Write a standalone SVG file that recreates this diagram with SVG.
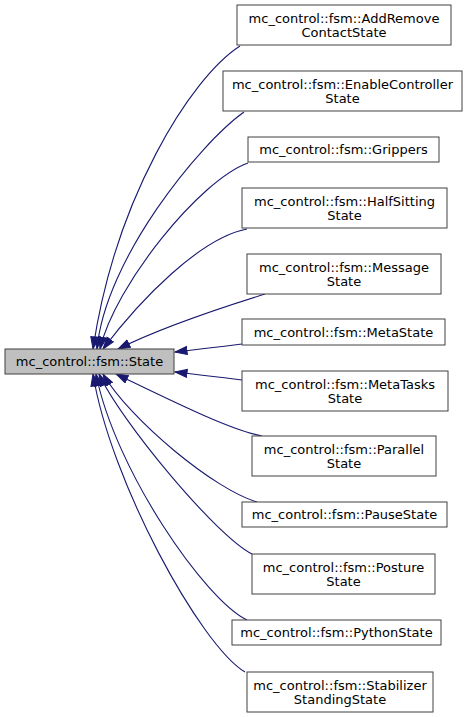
<svg xmlns="http://www.w3.org/2000/svg" width="471" height="717" viewBox="0 0 471 717">
<defs>
<style>
.n rect{fill:#ffffff;stroke:#404040;stroke-width:1}
#root rect{fill:#bfbfbf}
text{font-family:"DejaVu Sans","Liberation Sans",sans-serif;font-size:13px;fill:#000000;text-anchor:middle}
.e path{fill:none;stroke:#191970;stroke-width:1.1;marker-end:url(#ah)}
</style>
<marker id="ah" markerUnits="userSpaceOnUse" markerWidth="14" markerHeight="10" refX="12.5" refY="4.5" orient="auto">
<path d="M0.5,0.5 L12.5,4.5 L0.5,8.5 z" fill="#191970" stroke="#191970" stroke-width="1"/>
</marker>
</defs>
<rect width="471" height="717" fill="#ffffff"/>
<g class="e" id="edges">
<path d="M240,46 C190,78 115,200 93,349"/>
<path d="M244,112 C199,144 105,260 97,349"/>
<path d="M248,163 C200,180 115,285 100,349"/>
<path d="M247,229 C200,238 140,300 103,349"/>
<path d="M265,294 C220,308 160,328 118,349"/>
<path d="M242,344 C220,347 200,349 175,352"/>
<path d="M242,380 C220,377 200,375 175,372"/>
<path d="M262,436 C230,430 170,400 116,374"/>
<path d="M257,502 C215,490 130,420 103,374"/>
<path d="M252,554 C215,535 120,420 99,374"/>
<path d="M247,620 C205,600 115,470 96,374"/>
<path d="M245,672 C200,645 110,480 93,374"/>
</g>
<g class="n" id="root"><rect x="5" y="349" width="169" height="25"/><text x="89.5" y="366">mc_control::fsm::State</text></g>
<g class="n" id="n1"><rect x="237" y="5" width="214" height="40"/><text x="344" y="23">mc_control::fsm::AddRemove</text><text x="344" y="37">ContactState</text></g>
<g class="n" id="n2"><rect x="223" y="71" width="239" height="40"/><text x="342.5" y="89">mc_control::fsm::EnableController</text><text x="342.5" y="103">State</text></g>
<g class="n" id="n3"><rect x="248" y="137" width="191" height="25"/><text x="343.5" y="154">mc_control::fsm::Grippers</text></g>
<g class="n" id="n4"><rect x="242" y="188" width="205" height="40"/><text x="344.5" y="206">mc_control::fsm::HalfSitting</text><text x="344.5" y="220">State</text></g>
<g class="n" id="n5"><rect x="247" y="254" width="194" height="40"/><text x="344" y="272">mc_control::fsm::Message</text><text x="344" y="286">State</text></g>
<g class="n" id="n6"><rect x="242" y="319" width="203" height="26"/><text x="343.5" y="336.5">mc_control::fsm::MetaState</text></g>
<g class="n" id="n7"><rect x="242" y="371" width="206" height="40"/><text x="345" y="389">mc_control::fsm::MetaTasks</text><text x="345" y="403">State</text></g>
<g class="n" id="n8"><rect x="252" y="436" width="184" height="40"/><text x="344" y="454">mc_control::fsm::Parallel</text><text x="344" y="468">State</text></g>
<g class="n" id="n9"><rect x="242" y="502" width="205" height="25"/><text x="344.5" y="519">mc_control::fsm::PauseState</text></g>
<g class="n" id="n10"><rect x="252" y="554" width="183" height="40"/><text x="343.5" y="572">mc_control::fsm::Posture</text><text x="343.5" y="586">State</text></g>
<g class="n" id="n11"><rect x="232" y="620" width="209" height="25"/><text x="336.5" y="637">mc_control::fsm::PythonState</text></g>
<g class="n" id="n12"><rect x="247" y="672" width="186" height="40"/><text x="340" y="690">mc_control::fsm::Stabilizer</text><text x="340" y="704">StandingState</text></g>
</svg>
